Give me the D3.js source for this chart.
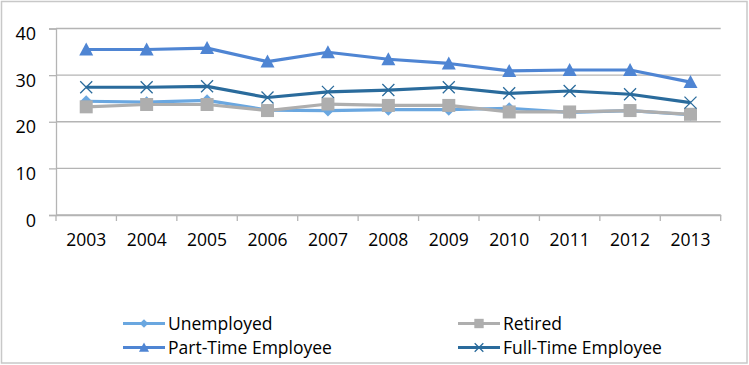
<!DOCTYPE html>
<html><head><meta charset="utf-8">
<script src="https://cdn.jsdelivr.net/npm/d3@7"></script>
<style>body{margin:0;background:#fff;} text{font-family:"Open Sans",sans-serif;}</style>
</head><body>
<svg id="c" width="749" height="365"></svg>
<script>
const years = ["2003","2004","2005","2006","2007","2008","2009","2010","2011","2012","2013"];
const unemployed = [24.4,24.2,24.6,22.5,22.4,22.6,22.6,22.9,22.0,22.4,21.5];
const retired    = [23.2,23.7,23.7,22.4,23.8,23.5,23.5,22.1,22.1,22.4,21.6];
const partTime   = [35.5,35.5,35.8,32.9,34.9,33.4,32.5,30.9,31.1,31.1,28.5];
const fullTime   = [27.4,27.4,27.6,25.2,26.4,26.8,27.4,26.1,26.6,25.9,24.1];
const yTicks = [0,10,20,30,40];

(function(){
const series = [
  {name:"Unemployed", values:unemployed, color:"#6AA7E0", marker:"diamond"},
  {name:"Retired", values:retired, color:"#AEAEAE", marker:"square"},
  {name:"Part-Time Employee", values:partTime, color:"#4F85D3", marker:"triangle"},
  {name:"Full-Time Employee", values:fullTime, color:"#2A6B9C", marker:"x"}
];

const svg = d3.select("#c");
svg.append("rect").attr("x",1.5).attr("y",1.5).attr("width",745.5).attr("height",361.5)
  .attr("fill","#fff").attr("stroke","#c8c8c8").attr("stroke-width",1.5);

const pl = 56, pr = 720.7, pt = 28.5, pb = 215;
const x = d3.scaleBand().domain(years).range([pl,pr]);
const y = d3.scaleLinear().domain([0,40]).range([pb,pt]);

svg.append("g").selectAll("line").data(yTicks).join("line")
  .attr("x1",pl).attr("x2",pr).attr("y1",d=>y(d)).attr("y2",d=>y(d))
  .attr("stroke","#b4b4b4").attr("stroke-width",1.3);

const ya = svg.append("g").attr("transform",`translate(${pl},0)`)
  .call(d3.axisLeft(y).tickValues(yTicks).tickSize(7).tickPadding(13).tickFormat(d3.format("d")));
ya.select(".domain").attr("stroke","#b4b4b4").attr("stroke-width",1.3);
ya.selectAll(".tick line").attr("stroke","#b4b4b4").attr("stroke-width",1.3);
ya.selectAll("text").attr("font-size",18).attr("fill","#000").attr("font-family","Open Sans")
  .attr("dy","0.62em");

const xa = svg.append("g").attr("transform",`translate(0,${pb})`)
  .call(d3.axisBottom(x).tickSize(0).tickPadding(19));
xa.select(".domain").attr("stroke","#b4b4b4").attr("stroke-width",1.3);
xa.selectAll("text").attr("font-size",17.5).attr("fill","#000").attr("font-family","Open Sans");
const bounds = years.map(d=>x(d)).concat([pr]);
xa.append("g").selectAll("line").data(bounds).join("line")
  .attr("x1",d=>d).attr("x2",d=>d).attr("y1",0).attr("y2",6)
  .attr("stroke","#b4b4b4").attr("stroke-width",1.3);

function drawMarker(g, type, cx, cy, color, k){
  k = k || 1;
  if(type==="diamond"){
    const r=6*k;
    g.append("path").attr("d",`M${cx},${cy-r}L${cx+r},${cy}L${cx},${cy+r}L${cx-r},${cy}Z`).attr("fill",color);
  } else if(type==="square"){
    const r=6.5*k;
    g.append("rect").attr("x",cx-r).attr("y",cy-r).attr("width",2*r).attr("height",2*r).attr("fill",color);
  } else if(type==="triangle"){
    g.append("path").attr("d",`M${cx},${cy-7*k}L${cx+7*k},${cy+6*k}L${cx-7*k},${cy+6*k}Z`).attr("fill",color);
  } else if(type==="x"){
    const r=6*k;
    g.append("path").attr("d",`M${cx-r},${cy-r}L${cx+r},${cy+r}M${cx-r},${cy+r}L${cx+r},${cy-r}`)
      .attr("stroke",color).attr("stroke-width",1.3).attr("fill","none");
  }
}

const line = d3.line().x((d,i)=>x(years[i])+x.bandwidth()/2).y(d=>y(d));
series.forEach(s=>{
  const g = svg.append("g");
  g.append("path").attr("d",line(s.values)).attr("fill","none").attr("stroke",s.color).attr("stroke-width",3.2)
   .attr("stroke-linejoin","round");
  s.values.forEach((v,i)=>drawMarker(g,s.marker,x(years[i])+x.bandwidth()/2,y(v),s.color));
});

const legendY = [323.5,323.5,347.5,347.5];
series.forEach((s,i)=>{
  const ly = legendY[i];
  const gx = i%2===1 ? 458 : 123;
  const g = svg.append("g");
  g.append("line").attr("x1",gx).attr("x2",gx+42).attr("y1",ly).attr("y2",ly)
    .attr("stroke",s.color).attr("stroke-width",3.2);
  drawMarker(g,s.marker,gx+21,ly,s.color,0.72);
  g.append("text").attr("x",gx+45).attr("y",ly).attr("dy","0.35em")
    .attr("font-size",17.5).attr("fill","#000").text(s.name);
});
})();
</script>
</body></html>
